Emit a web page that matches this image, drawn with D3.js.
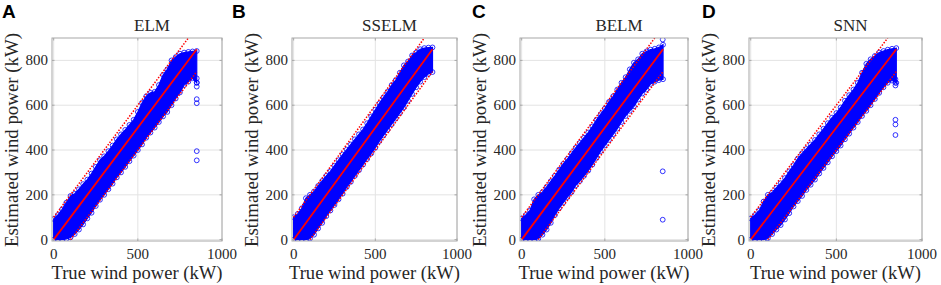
<!DOCTYPE html>
<html><head><meta charset="utf-8">
<script src="https://cdn.jsdelivr.net/npm/d3@7"></script>
<style>body{margin:0;background:#fff}</style>
</head><body>
<svg id="chart" width="941" height="285"></svg>
<script>
// ---------- DATA ----------
// True wind power grid (kW) at which the envelope of the scatter cloud was read
const trueGrid = [0,25,50,75,100,125,150,175,200,225,250,275,300,325,350,375,400,425,450,475,500,525,550,575,600,625,650,675,700,725,750,775,800,825,850];

// Upper / lower edge of the estimated-power cloud (kW) for each model
const elmUpper   = [92,110,135,165,195,205,225,248,268,295,325,355,372,395,420,448,470,490,512,535,570,610,640,655,660,690,735,760,800,815,830,835,838,840,842];
const elmLower   = [0,0,0,3,10,25,45,68,95,120,150,178,200,225,250,278,300,325,350,375,400,425,455,478,500,525,550,570,600,630,657,690,705,720,700];
const sselmUpper = [100,115,140,185,200,215,240,262,285,305,330,355,380,402,425,448,470,492,520,550,580,608,635,660,690,712,745,778,795,822,835,850,855,857,858];
const sselmLower = [0,0,0,0,5,22,50,75,105,130,155,180,205,235,258,285,310,335,360,385,410,440,465,490,515,540,565,590,620,650,680,705,725,740,748];
const belmUpper  = [95,110,130,180,200,212,235,260,285,312,338,360,385,410,432,455,478,505,535,560,585,615,640,670,700,725,760,790,805,830,840,848,852,858,870];
const belmLower  = [0,0,0,0,4,22,45,75,110,140,165,190,212,242,262,285,308,335,365,395,420,445,470,495,525,552,575,595,625,652,670,695,705,712,716];
const snnUpper   = [95,110,130,170,200,210,232,252,275,305,332,362,385,405,425,445,470,495,520,545,565,590,620,645,670,700,745,785,805,820,835,842,848,852,855];
const snnLower   = [0,0,0,0,6,25,45,65,90,118,148,172,195,222,245,268,295,320,345,372,395,420,448,473,500,525,552,575,600,628,655,680,700,710,700];

// Isolated points (true kW, estimated kW)
const elmOutTrue   = [850,850,850,850,850,850,850];
const elmOutEst    = [720,701,683,627,609,395,354];
const sselmOutTrue = [];
const sselmOutEst  = [];
const belmOutTrue  = [848,848,848];
const belmOutEst   = [893,305,89];
const snnOutTrue   = [845,845,845,845,845,845];
const snnOutEst    = [716,700,688,535,514,467];

// Reference lines: ideal y = x and the +/-100 kW bounds
const idealTrue = [0,850],   idealEst = [0,850];
const upperTrue = [0,800],   upperEst = [100,900];
const lowerTrue = [100,850], lowerEst = [0,750];

// Axis ticks
const xTicks = [0,500,1000];
const yTicks = [0,200,400,600,800];
const xDomain = [-10,1000];
const yDomain = [-6,900];

const titles  = ["ELM","SSELM","BELM","SNN"];
const letters = ["A","B","C","D"];
const uppers  = [elmUpper, sselmUpper, belmUpper, snnUpper];
const lowers  = [elmLower, sselmLower, belmLower, snnLower];
const outT    = [elmOutTrue, sselmOutTrue, belmOutTrue, snnOutTrue];
const outE    = [elmOutEst, sselmOutEst, belmOutEst, snnOutEst];

// ---------- LAYOUT ----------
const boxes = [
  {left:52,  right:222, letterX:2},
  {left:292, right:457, letterX:232},
  {left:520, right:688, letterX:472},
  {left:749, right:922, letterX:702}
];
const plotTop = 38, plotBottom = 241;
const serif = "'Liberation Serif','Times New Roman',serif";
const blue = "#0000ff", red = "#ff0000", boxCol = "#a8a8a8", gridCol = "#e3e3e3", txt = "#262626";

const svg = d3.select("#chart");

titles.forEach((title, i) => {
  const b = boxes[i];
  const x = d3.scaleLinear().domain(xDomain).range([b.left, b.right]);
  const y = d3.scaleLinear().domain(yDomain).range([plotBottom, plotTop]);
  const g = svg.append("g");
  const clipId = "clip" + i;
  svg.append("clipPath").attr("id", clipId).append("rect")
    .attr("x", b.left).attr("y", plotTop).attr("width", b.right - b.left).attr("height", plotBottom - plotTop);

  // grid
  g.selectAll(".gx").data(xTicks).enter().append("line")
    .attr("x1", d => x(d)).attr("x2", d => x(d)).attr("y1", plotTop).attr("y2", plotBottom)
    .attr("stroke", gridCol).attr("stroke-width", 1);
  g.selectAll(".gy").data(yTicks).enter().append("line")
    .attr("x1", b.left).attr("x2", b.right).attr("y1", d => y(d)).attr("y2", d => y(d))
    .attr("stroke", gridCol).attr("stroke-width", 1);

  const plot = g.append("g").attr("clip-path", `url(#${clipId})`);
  const band = trueGrid.map((t, k) => ({t, u: uppers[i][k], l: lowers[i][k]}));

  // dense cloud
  plot.append("path").datum(band)
    .attr("d", d3.area().x(d => x(d.t)).y0(d => y(d.l)).y1(d => y(d.u)))
    .attr("fill", blue).attr("stroke", blue).attr("stroke-width", 1.2);

  // circles on cloud edges
  const edgePts = band.flatMap(d => [[d.t, d.u], [d.t, d.l]]);
  plot.selectAll(".e").data(edgePts).enter().append("circle")
    .attr("cx", d => x(d[0])).attr("cy", d => y(d[1])).attr("r", 2.4)
    .attr("fill", "none").attr("stroke", blue).attr("stroke-width", 0.8);

  // isolated points
  const outs = outT[i].map((t, k) => [t, outE[i][k]]);
  plot.selectAll(".o").data(outs).enter().append("circle")
    .attr("cx", d => x(d[0])).attr("cy", d => y(d[1])).attr("r", 2.4)
    .attr("fill", "none").attr("stroke", blue).attr("stroke-width", 0.8);

  // reference lines
  const ln = d3.line().x(d => x(d[0])).y(d => y(d[1]));
  plot.append("path").datum(idealTrue.map((t,k)=>[t, idealEst[k]])).attr("d", ln)
    .attr("stroke", red).attr("stroke-width", 1.8).attr("fill", "none");
  plot.append("path").datum(upperTrue.map((t,k)=>[t, upperEst[k]])).attr("d", ln)
    .attr("stroke", red).attr("stroke-width", 1.5).attr("stroke-dasharray", "1.5,1.5").attr("fill", "none");
  plot.append("path").datum(lowerTrue.map((t,k)=>[t, lowerEst[k]])).attr("d", ln)
    .attr("stroke", red).attr("stroke-width", 1.5).attr("stroke-dasharray", "1.5,1.5").attr("fill", "none");

  // box
  g.append("rect").attr("x", b.left).attr("y", plotTop)
    .attr("width", b.right - b.left).attr("height", plotBottom - plotTop)
    .attr("fill", "none").attr("stroke", boxCol).attr("stroke-width", 1);

  // inner tick marks
  const tl = 2.5;
  xTicks.forEach(v => {
    g.append("line").attr("x1", x(v)).attr("x2", x(v)).attr("y1", plotBottom).attr("y2", plotBottom - tl).attr("stroke", boxCol);
    g.append("line").attr("x1", x(v)).attr("x2", x(v)).attr("y1", plotTop).attr("y2", plotTop + tl).attr("stroke", boxCol);
  });
  yTicks.forEach(v => {
    g.append("line").attr("x1", b.left).attr("x2", b.left + tl).attr("y1", y(v)).attr("y2", y(v)).attr("stroke", boxCol);
    g.append("line").attr("x1", b.right).attr("x2", b.right - tl).attr("y1", y(v)).attr("y2", y(v)).attr("stroke", boxCol);
  });

  // tick labels
  g.selectAll(".xt").data(xTicks).enter().append("text")
    .attr("x", d => x(d)).attr("y", 259).attr("text-anchor", "middle")
    .attr("font-family", serif).attr("font-size", 15).attr("fill", txt).text(d => d);
  g.selectAll(".yt").data(yTicks).enter().append("text")
    .attr("x", b.left - 4).attr("y", d => y(d)).attr("dy", "0.33em").attr("text-anchor", "end")
    .attr("font-family", serif).attr("font-size", 15).attr("fill", txt).text(d => d);

  // title
  g.append("text").attr("x", (b.left + b.right) / 2 + 15).attr("y", 31)
    .attr("text-anchor", "middle").attr("font-family", serif).attr("font-size", 17)
    .attr("fill", txt).text(title);

  // axis labels
  g.append("text").attr("x", (b.left + b.right) / 2).attr("y", 279)
    .attr("text-anchor", "middle").attr("font-family", serif).attr("font-size", 19)
    .attr("textLength", 171).attr("lengthAdjust", "spacingAndGlyphs")
    .attr("fill", txt).text("True wind power (kW)");
  g.append("text").attr("transform", `translate(${b.left - 34},140) rotate(-90)`)
    .attr("text-anchor", "middle").attr("font-family", serif).attr("font-size", 19)
    .attr("textLength", 214).attr("lengthAdjust", "spacingAndGlyphs")
    .attr("fill", txt).text("Estimated wind power (kW)");

  // panel letter
  svg.append("text").attr("x", b.letterX).attr("y", 18)
    .attr("font-family", "'Liberation Sans',Arial,sans-serif").attr("font-weight", "bold")
    .attr("font-size", 19).attr("fill", "#000").text(letters[i]);
});
</script>
</body></html>
